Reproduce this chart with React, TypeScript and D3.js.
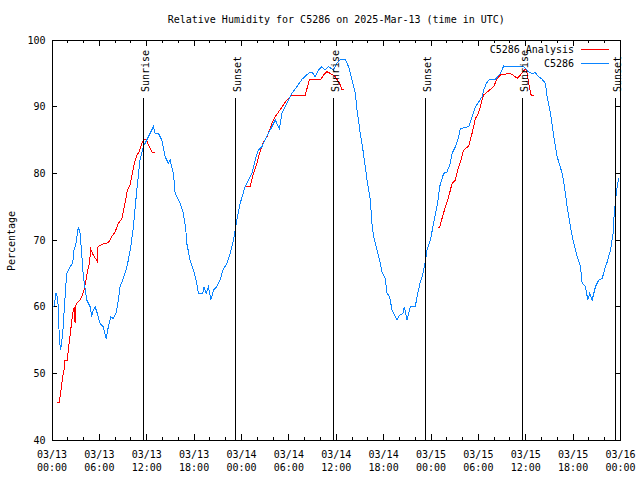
import React from 'react';
import * as d3 from 'd3';

// Observations (C5286): hours since 03/13 00:00 UTC, relative humidity %
const obsHours = [
  0.25, 0.51, 0.67, 0.80, 0.93, 1.10, 1.36, 1.52, 1.86, 2.28, 2.62, 2.79, 3.04, 3.33, 3.55, 3.76, 3.97, 4.40,
  4.82, 5.03, 5.24, 5.45, 5.74, 6.08, 6.50, 6.85, 7.14, 7.44, 7.77, 8.11, 8.40, 8.62, 8.96, 9.38, 9.67, 9.98,
  10.31, 10.74, 11.15, 11.57, 12.00, 12.42, 12.84, 13.06, 13.47, 13.91, 14.32, 14.74, 14.96, 15.38, 15.59,
  16.23, 16.64, 16.95, 17.07, 17.49, 17.91, 18.34, 18.55, 19.10, 19.27, 19.52, 19.81, 20.12, 20.45, 20.88,
  21.30, 21.64, 22.15, 22.56, 22.98, 23.41, 23.83, 24.46, 24.88, 25.31, 25.73, 26.15, 26.58, 27.00, 27.42,
  27.85, 28.27, 28.81, 29.12, 29.54, 29.95, 30.38, 31.44, 31.65, 32.49, 32.92, 33.34, 33.76, 34.19, 34.61,
  35.02, 35.66, 36.09, 36.51, 37.14, 37.56, 37.99, 38.41, 38.63, 39.04, 39.38, 39.68, 39.89, 40.31, 40.52,
  40.73, 41.16, 41.58, 41.79, 42.21, 42.43, 42.76, 43.06, 43.26, 43.69, 44.02, 44.46, 44.62, 44.96, 45.38,
  46.01, 46.31, 46.65, 46.99, 47.28, 47.50, 47.92, 48.33, 48.84, 49.10, 49.60, 50.03, 50.45, 50.67, 51.09,
  51.50, 51.72, 52.77, 53.20, 53.62, 54.04, 54.47, 54.67, 55.01, 55.31, 56.16, 56.79, 57.21, 58.06, 59.32,
  59.74, 60.38, 60.81, 61.23, 61.44, 62.08, 62.49, 62.71, 63.13, 63.55, 63.98, 64.61, 64.90, 65.24, 65.66,
  66.08, 66.51, 66.93, 67.14, 67.56, 67.86, 68.11, 68.41, 68.83, 69.25, 69.68, 69.97, 70.31, 70.73, 71.07,
  71.15, 71.37, 71.58, 71.79,
];
const obsRH = [
  60, 62, 61.5, 60, 55, 53.5, 56, 59, 65, 66, 66.5, 68.5, 69.5, 72, 71, 68, 64.5, 61,
  60, 58.5, 59.5, 60, 59, 57.5, 57, 55.2, 57, 58.5, 58.2, 59, 61, 63, 64, 65.5, 67, 69,
  72, 77.5, 82, 84, 85, 86, 87, 86, 86, 85, 82.5, 81.5, 82, 80, 77,
  75.5, 74, 71.5, 69.5, 67, 65.5, 63.5, 62, 62, 63, 62, 63, 61, 62.5, 63,
  64, 65.5, 66.5, 68, 70, 73, 75.5, 78, 79, 80, 82, 83.5, 84, 85, 86,
  87, 88, 86.7, 89, 90, 91, 92, 93.7, 94.1, 95, 95.2, 94.5, 95.5, 96, 95.5,
  96, 95.5, 96.5, 97, 97.1, 96, 94, 92, 89.5, 86, 83.5, 81, 79, 76, 72.5,
  70.5, 68.5, 66.5, 65.2, 64.2, 62, 61.5, 59.5, 59, 58, 58.7, 59, 60, 58, 60,
  60, 62, 63.7, 65, 66.7, 68.5, 70, 72.5, 75.5, 78, 80, 80.2, 81.5, 83, 84,
  85.5, 86.7, 87, 88.5, 90, 90.7, 91.5, 92.5, 93.5, 94, 94.1, 95, 96.1, 96, 96.1,
  96, 95.2, 95, 95.1, 94.7, 94.1, 93.5, 91.5, 89, 85.5, 82.5, 80, 78, 75, 72,
  69.5, 67.5, 66, 63.5, 63, 61, 62, 61, 63, 64, 64.2, 65.5, 66.7, 68.5, 71,
  73, 76, 78, 79.3,
];

// Analysis (C5286 Analysis): null marks a gap between runs
const anaHours = [
  0.67, 0.93, 1.10, 1.36, 1.52, 1.65, 1.94, 2.07, 2.37, 2.62, 2.83, 2.92, 2.98, 3.13, 3.55, 3.76, 4.06, 4.31,
  4.53, 4.73, 4.91, 5.24, 5.74, 5.83, 6.50, 7.14, 7.57, 7.99, 8.40, 8.84, 9.25, 9.55, 9.89, 10.18, 10.43,
  10.74, 11.03, 11.37, 11.66, 11.92, 12.21, 12.64, 13.06,
  18.0,
  24.59, 25.10, 25.52, 25.95, 26.28, 26.71, 27.22, 27.55, 27.85, 28.27, 28.81, 29.54, 29.88, 30.38, 32.07,
  32.62, 34.06, 34.39, 34.82, 35.24, 35.87, 36.42, 36.72, 37.01,
  42.0,
  48.84, 49.10, 49.40, 49.82, 50.24, 50.67, 51.09, 51.38, 51.72, 52.14, 52.77, 53.20, 53.40, 53.62, 53.91,
  54.25, 54.47, 54.67, 55.18, 55.94, 56.37, 56.79, 58.06, 58.91, 59.32, 59.83, 60.08, 60.38, 60.68, 61.01,
];
const anaRH = [
  45.7, 45.7, 47.2, 49.5, 50.5, 52, 52, 53.5, 56.5, 59, 59.9, 57.5, 60, 60.5, 61, 61.5, 62.5, 64,
  65.5, 66.5, 68.6, 67.7, 66.8, 69, 69.4, 69.6, 70.5, 71.2, 72.5, 73.2, 75.5, 77.5, 78.3, 80, 81.5,
  82.7, 83.2, 84.5, 85.1, 85.1, 84.3, 83.2, 83.1,
  null,
  78, 78, 80, 81.5, 83, 84.5, 85.5, 86.5, 87.5, 88.5, 89.4, 90.7, 91.1, 91.75, 91.75,
  94.1, 94.1, 94.75, 95.25, 95, 94.5, 93.5, 92.6, 92.5,
  null,
  71.9, 71.9, 73.25, 75, 76.5, 78.5, 79, 80.5, 81.7, 83.5, 84.1, 86, 87, 88.25, 88.75,
  90, 91, 91.75, 92.25, 93, 94.25, 94.75, 95, 94.25, 94.75, 95.5, 95.6, 93.5, 91.75, 91.6,
];

const sunriseHours = [11.59, 35.63, 59.56];
const sunsetHours = [23.3, 47.28, 71.43];

const yTicks = [40, 50, 60, 70, 80, 90, 100];
const xTickHours = [0, 6, 12, 18, 24, 30, 36, 42, 48, 54, 60, 66, 72];
const xTickDates = ['03/13', '03/13', '03/13', '03/13', '03/14', '03/14', '03/14', '03/14', '03/15', '03/15', '03/15', '03/15', '03/16'];
const xTickTimes = ['00:00', '06:00', '12:00', '18:00', '00:00', '06:00', '12:00', '18:00', '00:00', '06:00', '12:00', '18:00', '00:00'];
const xMinorHours = d3.range(0, 73, 2).filter((h) => h % 6 !== 0);

const titleText = 'Relative Humidity for C5286 on 2025-Mar-13 (time in UTC)';
const yLabelText = 'Percentage';
const seriesNames = ['C5286 Analysis', 'C5286'];
const seriesColors = ['#ff0000', '#0a84ff'];

const W = 640;
const H = 480;
const L = 52;
const R = 620.5;
const T = 40;
const B = 440;
const FONT = '"DejaVu Sans Mono", "Liberation Mono", monospace';

export default function App() {
  const x = d3.scaleLinear().domain([0, 72]).range([L, R]);
  const y = d3.scaleLinear().domain([40, 100]).range([B, T]);

  const obs: [number, number | null][] = obsHours.map((h, i) => [h, obsRH[i]]);
  const ana: [number, number | null][] = anaHours.map((h, i) => [h, anaRH[i]]);

  const line = d3
    .line<[number, number | null]>()
    .defined((d) => d[1] != null)
    .x((d) => x(d[0]))
    .y((d) => y(d[1] as number));

  const events = [
    ...sunriseHours.map((h) => ({ h, label: 'Sunrise' })),
    ...sunsetHours.map((h) => ({ h, label: 'Sunset' })),
  ];

  return (
    <div style={{ position: 'fixed', left: 0, top: 0 }}>
      <svg width={W} height={H} style={{ display: 'block', background: '#fff' }} fontFamily={FONT} fontSize={10}>
        <rect x={0} y={0} width={W} height={H} fill="#fff" />
        <defs>
          <clipPath id="plot">
            <rect x={L} y={T} width={R - L} height={B - T} />
          </clipPath>
        </defs>

        {/* title */}
        <text x={(L + R) / 2} y={22.5} textAnchor="middle" fill="#000">
          {titleText}
        </text>

        {/* y label */}
        <text transform={`translate(15,241) rotate(-90)`} textAnchor="middle" fill="#000">
          {yLabelText}
        </text>

        {/* y ticks */}
        {yTicks.map((v) => (
          <g key={'y' + v}>
            <line x1={L} x2={L + 5} y1={y(v)} y2={y(v)} stroke="#000" shapeRendering="crispEdges" />
            <line x1={R - 5} x2={R} y1={y(v)} y2={y(v)} stroke="#000" shapeRendering="crispEdges" />
            <text x={45.5} y={y(v) + 3.5} textAnchor="end" fill="#000">
              {v}
            </text>
          </g>
        ))}

        {/* x ticks */}
        {xTickHours.map((h, i) => (
          <g key={'x' + h}>
            <line x1={x(h)} x2={x(h)} y1={B} y2={B - 6} stroke="#000" shapeRendering="crispEdges" />
            <line x1={x(h)} x2={x(h)} y1={T} y2={T + 6} stroke="#000" shapeRendering="crispEdges" />
            <text x={x(h)} y={458} textAnchor="middle" fill="#000">
              {xTickDates[i]}
            </text>
            <text x={x(h)} y={471} textAnchor="middle" fill="#000">
              {xTickTimes[i]}
            </text>
          </g>
        ))}
        {xMinorHours.map((h) => (
          <g key={'m' + h}>
            <line x1={x(h)} x2={x(h)} y1={B} y2={B - 3} stroke="#000" shapeRendering="crispEdges" />
            <line x1={x(h)} x2={x(h)} y1={T} y2={T + 3} stroke="#000" shapeRendering="crispEdges" />
          </g>
        ))}

        {/* data */}
        <g clipPath="url(#plot)">
          <path d={line(ana) || ''} fill="none" stroke={seriesColors[0]} strokeWidth={1} shapeRendering="crispEdges" />
          <path d={line(obs) || ''} fill="none" stroke={seriesColors[1]} strokeWidth={1} shapeRendering="crispEdges" />
        </g>

        {/* sunrise / sunset markers */}
        {events.map((e, i) => (
          <g key={'e' + i}>
            <line x1={x(e.h)} x2={x(e.h)} y1={B} y2={98} stroke="#000" shapeRendering="crispEdges" />
            <text
              transform={`translate(${x(e.h) + 5.5},92) rotate(-90)`}
              textAnchor="start"
              fill="#000"
            >
              {e.label}
            </text>
          </g>
        ))}

        {/* legend */}
        {seriesNames.map((name, i) => (
          <g key={'l' + i}>
            <text x={574} y={53 + i * 13.5} textAnchor="end" fill="#000">
              {name}
            </text>
            <line x1={581} x2={609} y1={49.5 + i * 13.5} y2={49.5 + i * 13.5} stroke={seriesColors[i]} shapeRendering="crispEdges" />
          </g>
        ))}

        {/* border */}
        <rect x={L} y={T} width={R - L} height={B - T} fill="none" stroke="#000" shapeRendering="crispEdges" />
      </svg>
    </div>
  );
}
